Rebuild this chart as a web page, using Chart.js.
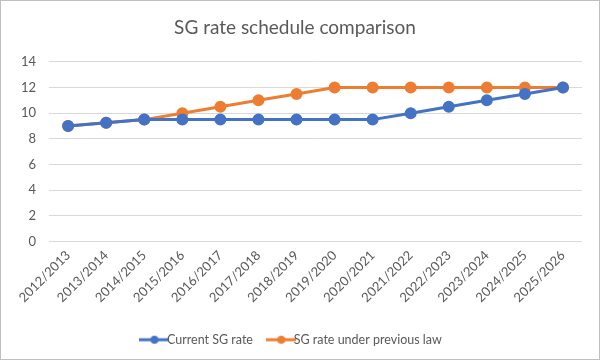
<!DOCTYPE html>
<html><head><meta charset="utf-8">
<script src="https://cdn.jsdelivr.net/npm/chart.js@4"></script>
<style>
html,body{margin:0;padding:0;background:#fff;}
#wrap{position:relative;width:600px;height:360px;box-sizing:border-box;border:1px solid #bfbfbf;background:#fff;}
canvas{display:block;}
</style></head>
<body>
<div id="wrap"><canvas id="c" width="598" height="358"></canvas></div>
<script>
const categories = ["2012/2013","2013/2014","2014/2015","2015/2016","2016/2017","2017/2018","2018/2019","2019/2020","2020/2021","2021/2022","2022/2023","2023/2024","2024/2025","2025/2026"];
const currentRate = [9, 9.25, 9.5, 9.5, 9.5, 9.5, 9.5, 9.5, 9.5, 10, 10.5, 11, 11.5, 12];
const previousLaw = [9, 9.25, 9.5, 10, 10.5, 11, 11.5, 12, 12, 12, 12, 12, 12, 12];
const yTicks = [0, 2, 4, 6, 8, 10, 12, 14];

const FONT = "Lato, 'Open Sans', sans-serif";
function legendIcon(color){
  const cv = document.createElement('canvas');
  cv.width = 30; cv.height = 10;
  const g = cv.getContext('2d');
  g.strokeStyle = color; g.lineWidth = 3;
  g.beginPath(); g.moveTo(0,5); g.lineTo(30,5); g.stroke();
  g.fillStyle = color; g.beginPath(); g.arc(15,5,4,0,Math.PI*2); g.fill();
  return cv;
}
const icons = [legendIcon('#4472C4'), legendIcon('#ED7D31')];

new Chart(document.getElementById('c'), {
  type: 'line',
  data: {
    labels: categories,
    datasets: [
      {label:'Current SG rate', data: currentRate, borderColor:'#4472C4', backgroundColor:'#4472C4', borderWidth:3, pointRadius:4.5, pointHoverRadius:4.5, tension:0},
      {label:'SG rate under previous law', data: previousLaw, borderColor:'#ED7D31', backgroundColor:'#ED7D31', borderWidth:3, pointRadius:4.5, pointHoverRadius:4.5, tension:0}
    ]
  },
  options: {
    responsive:false, animation:false,
    layout:{padding:{left:7, right:17, top:13, bottom:3}},
    plugins:{
      title:{display:true, text:'SG rate schedule comparison', color:'#595959', font:{family:FONT, size:19, weight:'normal'}, padding:{top:2, bottom:23}},
      legend:{position:'bottom', labels:{color:'#595959', font:{family:FONT, size:12.5}, usePointStyle:true, padding:22,
        generateLabels(chart){
          return chart.data.datasets.map((ds,i)=>({text:ds.label, pointStyle:icons[i], fillStyle:ds.borderColor, strokeStyle:ds.borderColor, lineWidth:0, datasetIndex:i, hidden:false, fontColor:'#595959'}));
        }}},
      tooltip:{enabled:false}
    },
    scales:{
      x:{offset:true, grid:{display:false, drawTicks:false}, border:{display:false},
        ticks:{color:'#595959', font:{family:FONT, size:13}, maxRotation:45, minRotation:45, autoSkip:false, padding:6}},
      y:{min:0, max:14, grid:{color:'#d9d9d9', lineWidth:1, drawTicks:false}, border:{display:false},
        afterBuildTicks(axis){ axis.ticks = yTicks.map(v=>({value:v})); },
        ticks:{color:'#595959', font:{family:FONT, size:13}, padding:13}}
    }
  }
});
</script>
</body></html>
